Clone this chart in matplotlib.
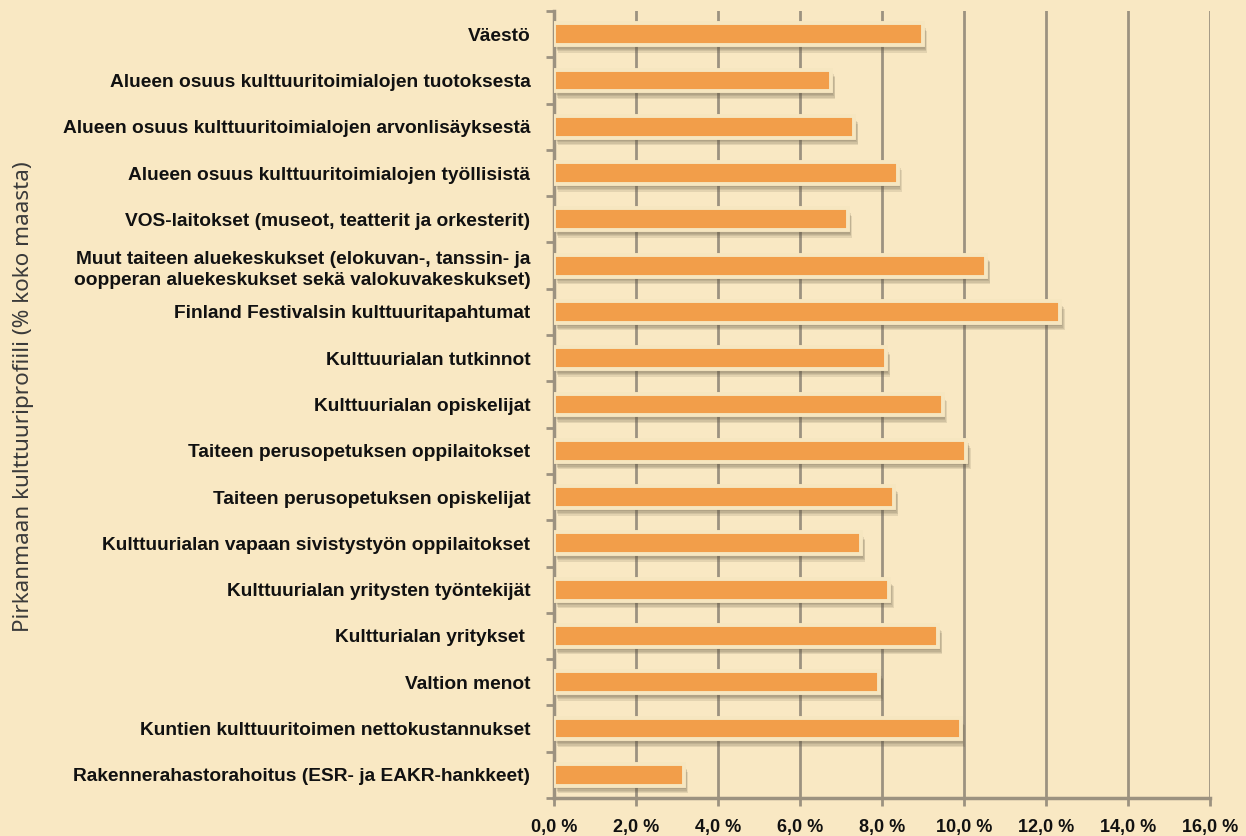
import numpy as np
import matplotlib
matplotlib.use('Agg')
import matplotlib.pyplot as plt
import matplotlib.patheffects as pe
from matplotlib.ticker import FixedLocator

# データ
categories = [
    'Väestö',
    'Alueen osuus kulttuuritoimialojen tuotoksesta',
    'Alueen osuus kulttuuritoimialojen arvonlisäyksestä',
    'Alueen osuus kulttuuritoimialojen työllisistä',
    'VOS-laitokset (museot, teatterit ja orkesterit)',
    'Muut taiteen aluekeskukset (elokuvan-, tanssin- ja\noopperan aluekeskukset sekä valokuvakeskukset)',
    'Finland Festivalsin kulttuuritapahtumat',
    'Kulttuurialan tutkinnot',
    'Kulttuurialan opiskelijat',
    'Taiteen perusopetuksen oppilaitokset',
    'Taiteen perusopetuksen opiskelijat',
    'Kulttuurialan vapaan sivistystyön oppilaitokset',
    'Kulttuurialan yritysten työntekijät',
    'Kultturialan yritykset ',
    'Valtion menot',
    'Kuntien kulttuuritoimen nettokustannukset',
    'Rakennerahastorahoitus (ESR- ja EAKR-hankkeet)',
]
values = [9.0, 6.76, 7.32, 8.38, 7.17, 10.54, 12.35, 8.1, 9.48,
          10.06, 8.30, 7.49, 8.18, 9.37, 7.93, 9.92, 3.17]
xticks = [0, 2, 4, 6, 8, 10, 12, 14, 16]
xtick_labels = ['0,0 %', '2,0 %', '4,0 %', '6,0 %', '8,0 %', '10,0 %',
                '12,0 %', '14,0 %', '16,0 %']
ylabel = 'Pirkanmaan kulttuuriprofiili (% koko maasta)'

bg = '#F9E8C3'
bar_color = '#F29E4A'
grid_color = '#9C9280'

fig = plt.figure(figsize=(12.46, 8.36), dpi=100, facecolor=bg)
ax = fig.add_axes([0.4446, 0.0455, 0.5265, 0.9413])
ax.set_facecolor(bg)

n = len(categories)
y = np.arange(n)
bars = ax.barh(y, values, height=0.47, color=bar_color, edgecolor='#F6E6C0',
               linewidth=2.8, zorder=3)
# ぼかし風の影
shadow = [pe.SimplePatchShadow(offset=(dx, dy), shadow_rgbFace='#5E5440', alpha=0.14)
          for dx, dy in [(0.5, -1.5), (1.5, -2.5), (2, -3.5), (2.5, -4.5), (3, -5.5)]]
for b in bars:
    b.set_path_effects(shadow + [pe.Normal()])

ax.set_ylim(n - 0.5, -0.5)
ax.set_xlim(0, 16)

# グリッド
ax.xaxis.set_major_locator(FixedLocator(xticks))
ax.set_xticklabels(xtick_labels, fontsize=13, fontweight='bold', family='Liberation Sans')
ax.grid(axis='x', color=grid_color, linewidth=2, zorder=0)
ax.set_axisbelow(True)

ax.set_yticks(y)
ax.set_yticklabels(categories, fontsize=13.8, fontweight='bold', family='Liberation Sans',
                   linespacing=1.35)
ax.yaxis.set_minor_locator(FixedLocator(np.arange(-0.5, n, 1.0)))
ax.tick_params(axis='y', which='major', length=0, pad=17, colors='#111111')
ax.tick_params(axis='y', which='minor', length=6, width=2, color=grid_color)
ax.tick_params(axis='x', which='major', length=6, width=2, color=grid_color, pad=9,
               labelcolor='#111111')

for s in ['top', 'right']:
    ax.spines[s].set_visible(False)
for s in ['left', 'bottom']:
    ax.spines[s].set_color(grid_color)
    ax.spines[s].set_linewidth(2.5)

fig.text(0.019, 0.526, ylabel, rotation=90, va='center', ha='center',
         fontsize=16.2, family='Noto Sans', fontweight='normal', color='#3A3A3A')

plt.savefig('out.png', dpi=100, facecolor=bg)
